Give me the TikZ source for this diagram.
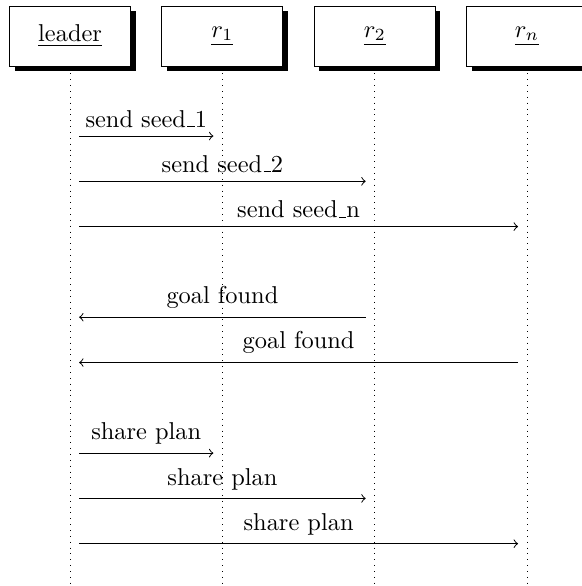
\documentclass[tikz,border=0pt]{standalone}
\usetikzlibrary{shadows}
\newcommand{\seedus}{\leavevmode\kern.06em\vbox{\hrule width .3em}}

\begin{document}
\begin{tikzpicture}[>=to]
			\useasboundingbox (0,0) rectangle (8.386,-8.444);
			\tikzstyle{actor} = [rectangle,draw=black,fill=white,line width=0.4pt,minimum width=1.744cm,minimum height=0.865cm,drop shadow={fill=black,opacity=1,shadow xshift=0.075cm,shadow yshift=-0.075cm}];
			\tikzstyle{lifeline} = [dotted,line width=0.4pt];
			\tikzstyle{msg} = [->,line width=0.4pt];
			\node[actor] (leader) at (1.010, -0.519) {\underline{leader}};
			\node[actor] (r1) at (3.205, -0.519) {\underline{$r_1$}};
			\node[actor] (r2) at (5.400, -0.519) {\underline{$r_2$}};
			\node[actor] (rn) at (7.595, -0.519) {\underline{$r_n$}};
			% lifelines
			\coordinate (leaderend) at (1.010, -8.444);
			\coordinate (r1end) at (3.205, -8.444);
			\coordinate (r2end) at (5.400, -8.444);
			\coordinate (rnend) at (7.595, -8.444);
			\draw[lifeline] ([yshift=-0.1cm]leader.south) -- (leaderend);
			\draw[lifeline] ([yshift=-0.1cm]r1.south) -- (r1end);
			\draw[lifeline] ([yshift=-0.1cm]r2.south) -- (r2end);
			\draw[lifeline] ([yshift=-0.1cm]rn.south) -- (rnend);
			% seeds
			\coordinate (m1s) at (1.140, -1.960); \coordinate (m1e) at (3.075, -1.960);
			\coordinate (m2s) at (1.140, -2.613); \coordinate (m2e) at (5.270, -2.613);
			\coordinate (m3s) at (1.140, -3.265); \coordinate (m3e) at (7.465, -3.265);
			\draw[msg] (m1s) -- node[above] {send seed\seedus 1} (m1e);
			\draw[msg] (m2s) -- node[above] {send seed\seedus 2} (m2e);
			\draw[msg] (m3s) -- node[above] {send seed\seedus n} (m3e);
			% goals
			\coordinate (m4s) at (5.270, -4.571); \coordinate (m4e) at (1.140, -4.571);
			\coordinate (m5s) at (7.465, -5.224); \coordinate (m5e) at (1.140, -5.224);
			\draw[msg] (m4s) -- node[above] {goal found} (m4e);
			\draw[msg] (m5s) -- node[above] {goal found} (m5e);
			% plans
			\coordinate (m6s) at (1.140, -6.529); \coordinate (m6e) at (3.075, -6.529);
			\coordinate (m7s) at (1.140, -7.182); \coordinate (m7e) at (5.270, -7.182);
			\coordinate (m8s) at (1.140, -7.834); \coordinate (m8e) at (7.465, -7.834);
			\draw[msg] (m6s) -- node[above] {share plan} (m6e);
			\draw[msg] (m7s) -- node[above] {share plan} (m7e);
			\draw[msg] (m8s) -- node[above] {share plan} (m8e);
		\end{tikzpicture}
\end{document}
